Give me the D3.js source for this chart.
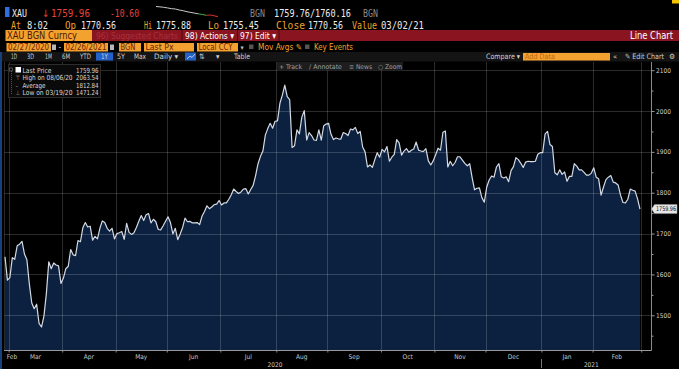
<!DOCTYPE html>
<html>
<head>
<meta charset="utf-8">
<script src="https://cdn.jsdelivr.net/npm/d3@7"></script>
<style>
  body { margin: 0; background: #000; }
  #wrapper { width: 679px; height: 369px; overflow: hidden; }
  text { font-family: "DejaVu Sans Condensed", "Liberation Sans", sans-serif; }
  .mono { font-family: "DejaVu Sans Mono", "Liberation Mono", monospace; }
</style>
</head>
<body>
<div id="wrapper"></div>
<script>
// XAU spot, one value per weekday, grouped by month
const feb20 = [1643, 1586]
const mar20 = [1592, 1641, 1637, 1670, 1674, 1681, 1650, 1636, 1577, 1530, 1516, 1527, 1480, 1471.24, 1498, 1553, 1631, 1614, 1628, 1623, 1621, 1578]
const apr20 = [1591, 1614, 1620, 1661, 1648, 1646, 1683, 1680, 1714, 1727, 1716, 1718, 1684, 1693, 1687, 1713, 1731, 1727, 1713, 1706, 1713, 1687]
const may20 = [1700, 1702, 1705, 1686, 1725, 1703, 1698, 1702, 1715, 1730, 1744, 1732, 1746, 1749, 1726, 1735, 1729, 1710, 1709, 1719, 1730]
const jun20 = [1741, 1727, 1699, 1713, 1685, 1699, 1715, 1738, 1729, 1730, 1726, 1726, 1727, 1722, 1743, 1754, 1768, 1761, 1765, 1771, 1772, 1781]
const jul20 = [1770, 1775, 1775, 1784, 1795, 1809, 1803, 1798, 1802, 1809, 1810, 1797, 1808, 1818, 1842, 1871, 1889, 1902, 1941, 1957, 1970, 1958, 1975]
const aug20 = [1976, 2019, 2039, 2063.54, 2035, 2028, 1911, 1915, 1954, 1944, 1985, 2001, 1929, 1947, 1940, 1929, 1928, 1954, 1929, 1964, 1968]
const sep20 = [1970, 1943, 1930, 1934, 1932, 1931, 1947, 1945, 1940, 1956, 1954, 1960, 1945, 1950, 1912, 1900, 1863, 1868, 1862, 1881, 1898, 1887]
const oct20 = [1906, 1900, 1913, 1877, 1887, 1894, 1930, 1922, 1892, 1902, 1908, 1899, 1904, 1907, 1924, 1904, 1902, 1901, 1908, 1878, 1868, 1878]
const nov20 = [1893, 1909, 1904, 1948, 1951, 1863, 1877, 1866, 1874, 1888, 1888, 1880, 1872, 1866, 1871, 1837, 1807, 1811, 1812, 1788, 1777]
const dec20 = [1814, 1831, 1841, 1838, 1863, 1871, 1839, 1836, 1839, 1827, 1854, 1864, 1886, 1881, 1872, 1862, 1875, 1877, 1876, 1876, 1877, 1894, 1898]
const jan21 = [1898, 1944, 1950, 1918, 1913, 1849, 1844, 1856, 1845, 1851, 1828, 1840, 1840, 1871, 1865, 1856, 1856, 1850, 1843, 1843, 1848]
const feb21 = [1861, 1838, 1834, 1794, 1814, 1832, 1838, 1842, 1826, 1824, 1819, 1794, 1776, 1775, 1784, 1809, 1806, 1804, 1785, 1759.96]

const monthLabels = ["Feb", "Mar", "Apr", "May", "Jun", "Jul", "Aug", "Sep", "Oct", "Nov", "Dec", "Jan", "Feb"]
const yearLabels = ["2020", "2021"]
const priceTicks = [1500, 1600, 1700, 1800, 1900, 2000, 2100]
const minorTicks = [1450, 1550, 1650, 1750, 1850, 1950, 2050]

const legendLabels = ["Last Price", "High on 08/06/20", "Average", "Low on 03/19/20"]
const legendValues = ["1759.96", "2063.54", "1812.84", "1471.24"]

// intraday sparkline in the header
const sparkValues = [1771, 1770.6, 1770.1, 1769.4, 1768.6, 1768.2, 1767.1, 1766.3, 1765.2, 1764.4, 1763.6, 1762.8, 1762.1, 1761.2, 1761.6, 1760.6, 1759.9]

function drawChart(){

  const byMonth = [feb20, mar20, apr20, may20, jun20, jul20, aug20, sep20, oct20, nov20, dec20, jan21, feb21]
  const dataset = byMonth.flat().map((v, i) => ({ i: i, v: v }))
  const starts = []
  let n = 0
  byMonth.forEach(m => { starts.push(n); n += m.length })
  starts.push(n)

  const xAccessor = d => d.i
  const yAccessor = d => d.v

  let dimensions = {
    width: 679,
    height: 369,
    plotLeft: 5,
    plotRight: 640,
    axisX: 651.5,
    top: 62,
    bottom: 350,
  }

  const wrapper = d3.select("#wrapper")
    .append("svg")
      .attr("width", dimensions.width)
      .attr("height", dimensions.height)
      .style("background", "#000")

  // text helper; w squeezes the text to the width seen in the screenshot
  const txt = (x, y, s, fill, size, w, cls) => {
    const t = wrapper.append("text")
      .attr("x", x).attr("y", y)
      .attr("fill", fill)
      .attr("class", cls || null)
      .style("font-size", size + "px")
      .text(s)
    if (w) t.attr("textLength", w).attr("lengthAdjust", "spacingAndGlyphs")
    return t
  }

  // ---- header row 1
  wrapper.append("rect").attr("x", 5).attr("y", 7).attr("width", 4.5).attr("height", 10).attr("fill", "#2f6fe0")
  const row1 = [
    [12, "XAU", 15, "#f0f0f0"], [51, "1759.96", 39, "#e8433c"], [110, "-10.60", 29, "#e8433c"],
    [250, "BGN", 15, "#8a8a8a"], [274, "1759.76/1760.16", 77, "#ececec"], [363, "BGN", 15, "#8a8a8a"],
  ]
  row1.forEach(r => txt(r[0], 16.5, r[1], r[3], 10, r[2], "mono"))
  txt(42, 16.5, "↓", "#e8433c", 10)

  const sx = d3.scaleLinear().domain([0, sparkValues.length - 1]).range([156, 218])
  const sy = d3.scaleLinear().domain(d3.extent(sparkValues)).range([16.5, 6.5])
  const sparkParts = [[0, 12, "#c9c9c9"], [11, 14, "#2fbf3a"], [13, 17, "#e0302c"]]
  sparkParts.forEach(p => {
    wrapper.append("path")
      .datum(sparkValues.slice(p[0], p[1]).map((v, k) => ({ v: v, k: k + p[0] })))
      .attr("d", d3.line().x(d => sx(d.k)).y(d => sy(d.v)))
      .attr("fill", "none").attr("stroke", p[2]).attr("stroke-width", 1)
  })

  // ---- header row 2
  const row2 = [
    [11, "At", 10, "#f0a32c"], [27, "8:02", 21, "#ececec"], [65, "Op", 11, "#f0a32c"], [81, "1770.56", 35, "#ececec"],
    [144, "Hi", 8, "#f0a32c"], [156, "1775.88", 35, "#ececec"], [208, "Lo", 11, "#f0a32c"], [223, "1755.45", 36, "#ececec"],
    [276, "Close", 29, "#f0a32c"], [308, "1770.56", 35, "#ececec"], [352, "Value", 25, "#f0a32c"], [381, "03/02/21", 43, "#ececec"],
  ]
  row2.forEach(r => txt(r[0], 28.5, r[1], r[3], 10, r[2], "mono"))
  wrapper.append("rect").attr("x", 672).attr("y", 0).attr("width", 7).attr("height", 3.5).attr("fill", "#f5c400")

  // ---- header row 3 (red bar)
  wrapper.append("rect").attr("x", 92).attr("y", 30).attr("width", 587).attr("height", 11).attr("fill", "#8a1521")
  wrapper.append("rect").attr("x", 5.5).attr("y", 30).attr("width", 86.5).attr("height", 11).attr("fill", "#f3a230")
  txt(7, 39, "XAU BGN Curncy", "#4a1600", 10, 70)
  txt(96, 39, "96) Suggested Charts", "#a9303c", 9.5, 82)
  txt(185, 39, "98) Actions ▾", "#ffffff", 9.5, 49)
  txt(240, 39, "97) Edit ▾", "#ffffff", 9.5, 36)
  txt(630, 39, "Line Chart", "#ffffff", 10, 43)
  ;[182, 237.5, 279].forEach(x => wrapper.append("line").attr("x1", x).attr("x2", x).attr("y1", 30).attr("y2", 41).attr("stroke", "#4e0710"))

  // ---- header row 4
  const boxes = [[6.5, 51, "02/27/2020", 41], [64, 108, "02/26/2021", 41], [119, 141, "BGN", 15], [144, 194, "Last Px", 28], [197, 238, "Local CCY", 34]]
  boxes.forEach(b => {
    wrapper.append("rect").attr("x", b[0]).attr("y", 43).attr("width", b[1] - b[0]).attr("height", 8.5).attr("fill", "#f3a230")
    txt(b[0] + 1.5, 50.3, b[2], "#6b1c00", 8.5, b[3])
  })
  ;[52, 110].forEach(x => wrapper.append("rect").attr("x", x).attr("y", 44.5).attr("width", 4).attr("height", 5.5).attr("fill", "#b8b8b8"))
  txt(58.5, 50, "-", "#cccccc", 8)
  txt(240.5, 50, "▾", "#bbbbbb", 7)
  ;[249, 305].forEach(x => wrapper.append("rect").attr("x", x).attr("y", 44.5).attr("width", 4.5).attr("height", 4.5).attr("fill", "#555"))
  txt(258, 50.3, "Mov Avgs ✎", "#f0a32c", 8.5, 44)
  txt(314, 50.3, "Key Events", "#f0a32c", 8.5, 39)

  // ---- header row 5
  wrapper.append("rect").attr("x", 0).attr("y", 52).attr("width", 679).attr("height", 9.5).attr("fill", "#141414")
  wrapper.append("rect").attr("x", 96).attr("y", 52.5).attr("width", 17).attr("height", 8).attr("fill", "#2461c8")
  wrapper.append("rect").attr("x", 185).attr("y", 52.5).attr("width", 11).attr("height", 8).attr("fill", "#2461c8")
  wrapper.append("path").attr("d", "M187,59 L190,56 L192,57.5 L195,54").attr("fill", "none").attr("stroke", "#dce6ff").attr("stroke-width", 0.8)
  const row5 = [[11, "1D", 6], [27, "3D", 7], [45, "1M", 7], [62, "6M", 8], [80, "YTD", 11], [101, "1Y", 7], [117, "5Y", 8], [134, "Max", 12],
    [154, "Daily ▾", 24], [199, "⇅", 0], [216, "▾", 0], [234, "Table", 16], [486, "Compare ▾", 34], [613, "«", 0], [625, "✎ Edit Chart", 39], [669, "⚙", 0]]
  row5.forEach(r => txt(r[0], 59.2, r[1], "#d0d0d0", 7.5, r[2]))
  wrapper.append("rect").attr("x", 523).attr("y", 53).attr("width", 87).attr("height", 7.5).attr("fill", "#f3a230")
  txt(525, 59.2, "Add Data", "#c0660c", 7.5, 30)

  // left blue rail
  wrapper.append("rect").attr("x", 0).attr("y", 52).attr("width", 2).attr("height", 317).attr("fill", "#16407e")

  // ---- scales
  const xScale = d3.scaleLinear()
    .domain([0, dataset.length - 1])
    .range([dimensions.plotLeft, dimensions.plotRight])

  const yScale = d3.scaleLinear()
    .domain([1415, 2120])
    .range([dimensions.bottom, dimensions.top])

  const bounds = wrapper.append("g")

  const areaGenerator = d3.area()
    .x(d => xScale(xAccessor(d)))
    .y0(dimensions.bottom)
    .y1(d => yScale(yAccessor(d)))

  bounds.append("path")
    .datum(dataset)
    .attr("d", areaGenerator)
    .attr("fill", "#0c2140")

  // grid
  const boundaries = starts.map(s => xScale(s - 0.5))
  const grid = bounds.append("g").attr("stroke", "#ffffff").attr("stroke-opacity", 0.17).attr("stroke-width", 1)
  grid.selectAll("line.h")
    .data(priceTicks)
    .enter().append("line")
      .attr("x1", dimensions.plotLeft - 0.5)
      .attr("x2", dimensions.axisX)
      .attr("y1", d => Math.round(yScale(d)) + 0.5)
      .attr("y2", d => Math.round(yScale(d)) + 0.5)
  grid.selectAll("line.v")
    .data(boundaries.slice(1))
    .enter().append("line")
      .attr("x1", d => Math.round(d) + 0.5)
      .attr("x2", d => Math.round(d) + 0.5)
      .attr("y1", dimensions.top)
      .attr("y2", dimensions.bottom)
  grid.append("line")
    .attr("x1", 4.5).attr("x2", 4.5).attr("y1", dimensions.top).attr("y2", dimensions.bottom)

  const lineGenerator = d3.line()
    .x(d => xScale(xAccessor(d)))
    .y(d => yScale(yAccessor(d)))

  bounds.append("path")
    .datum(dataset)
    .attr("d", lineGenerator)
    .attr("fill", "none")
    .attr("stroke", "#d3dae4")
    .attr("stroke-width", 1.2)
    .attr("stroke-linejoin", "round")

  // ---- bottom axis
  const xAxisGenerator = d3.axisBottom(xScale)
    .tickValues(starts.slice(1).map(s => s - 0.5))
    .tickSize(2)
    .tickFormat("")
  const xAxis = bounds.append("g")
    .call(xAxisGenerator)
    .style("transform", `translateY(${dimensions.bottom + 0.5}px)`)
  xAxis.select(".domain").remove()
  xAxis.selectAll("line").attr("stroke", "#8a8a8a")
  bounds.append("line")
    .attr("x1", 4).attr("x2", dimensions.axisX)
    .attr("y1", dimensions.bottom + 0.5).attr("y2", dimensions.bottom + 0.5)
    .attr("stroke", "#9a9a9a")

  monthLabels.forEach((m, k) => {
    const cx = Math.max((boundaries[k] + boundaries[k + 1]) / 2, 12)
    txt(cx, 358.5, m, "#c8c8c8", 6.5).attr("text-anchor", "middle")
  })
  const yearSpans = [[1, 11], [11, 13]]
  yearLabels.forEach((y, k) => {
    const cx = (boundaries[yearSpans[k][0]] + boundaries[yearSpans[k][1]]) / 2
    txt(cx, 366.5, y, "#c8c8c8", 6.5).attr("text-anchor", "middle")
  })
  bounds.append("line")
    .attr("x1", Math.round(boundaries[11]) + 0.5).attr("x2", Math.round(boundaries[11]) + 0.5)
    .attr("y1", 359).attr("y2", 368)
    .attr("stroke", "#777")

  // ---- right axis
  bounds.append("line")
    .attr("x1", dimensions.axisX).attr("x2", dimensions.axisX)
    .attr("y1", dimensions.top).attr("y2", dimensions.bottom + 0.5)
    .attr("stroke", "#8a8a8a")

  const yAxisGenerator = d3.axisRight(yScale)
    .tickValues(priceTicks)
    .tickSize(3)
    .tickPadding(1.5)
    .tickFormat(d3.format("d"))
  const yAxis = bounds.append("g")
    .call(yAxisGenerator)
    .style("transform", `translateX(${dimensions.axisX}px)`)
  yAxis.select(".domain").remove()
  yAxis.selectAll("line").attr("stroke", "#9a9a9a")
  yAxis.selectAll("text")
    .attr("fill", "#cfcfcf")
    .style("font-size", "6.5px")
    .style("font-family", "\"DejaVu Sans Condensed\", \"Liberation Sans\", sans-serif")

  const yMinor = bounds.append("g")
    .call(d3.axisRight(yScale).tickValues(minorTicks).tickSize(2).tickFormat(""))
    .style("transform", `translateX(${dimensions.axisX}px)`)
  yMinor.select(".domain").remove()
  yMinor.selectAll("line").attr("stroke", "#9a9a9a")

  // last price tag
  const last = dataset[dataset.length - 1]
  const ly = yScale(last.v)
  bounds.append("path")
    .attr("d", `M${dimensions.axisX},${ly} L${dimensions.axisX + 3},${ly - 4.5} L677,${ly - 4.5} L677,${ly + 4.5} L${dimensions.axisX + 3},${ly + 4.5} Z`)
    .attr("fill", "#e6e6e6")
    .attr("stroke", "#9a9a9a")
    .attr("stroke-width", 0.5)
  txt(656, ly + 2.4, "1759.96", "#111", 6.5, 20)

  // ---- legend box
  wrapper.append("rect").attr("x", 8.5).attr("y", 64.5).attr("width", 92).attr("height", 33)
    .attr("fill", "#0a0a0a").attr("stroke", "#2c2c2c")
  wrapper.append("line").attr("x1", 11.5).attr("x2", 11.5).attr("y1", 71).attr("y2", 95)
    .attr("stroke", "#555").attr("stroke-dasharray", "1,1")
  wrapper.append("rect").attr("x", 9.5).attr("y", 68).attr("width", 3).attr("height", 3).attr("fill", "none").attr("stroke", "#777").attr("stroke-width", 0.6)
  wrapper.append("rect").attr("x", 15.5).attr("y", 67).attr("width", 5.5).attr("height", 5.5).attr("fill", "#ffffff")
  const icons = ["", "⊤", "–", "⊥"]
  const labelWidths = [29, 50, 23, 50]
  legendLabels.forEach((l, k) => {
    const by = 72.5 + k * 7.6
    if (icons[k]) txt(15.5, by, icons[k], "#aaaaaa", 6)
    txt(22.5, by, l, "#d8d8d8", 7, labelWidths[k])
    txt(76, by, legendValues[k], "#d8d8d8", 7, 22.5)
  })

  // ---- chart toolbar
  wrapper.append("rect").attr("x", 277).attr("y", 62).attr("width", 126).attr("height", 8.5).attr("fill", "#1d1d1d")
  const tools = [[279, "+ Track", 23], [309, "∕ Annotate", 33], [349, "≡ News", 23], [378, "○ Zoom", 24]]
  tools.forEach(t => txt(t[0], 68.8, t[1], "#a0a0a0", 6.5, t[2]))
}

drawChart()
</script>
</body>
</html>
